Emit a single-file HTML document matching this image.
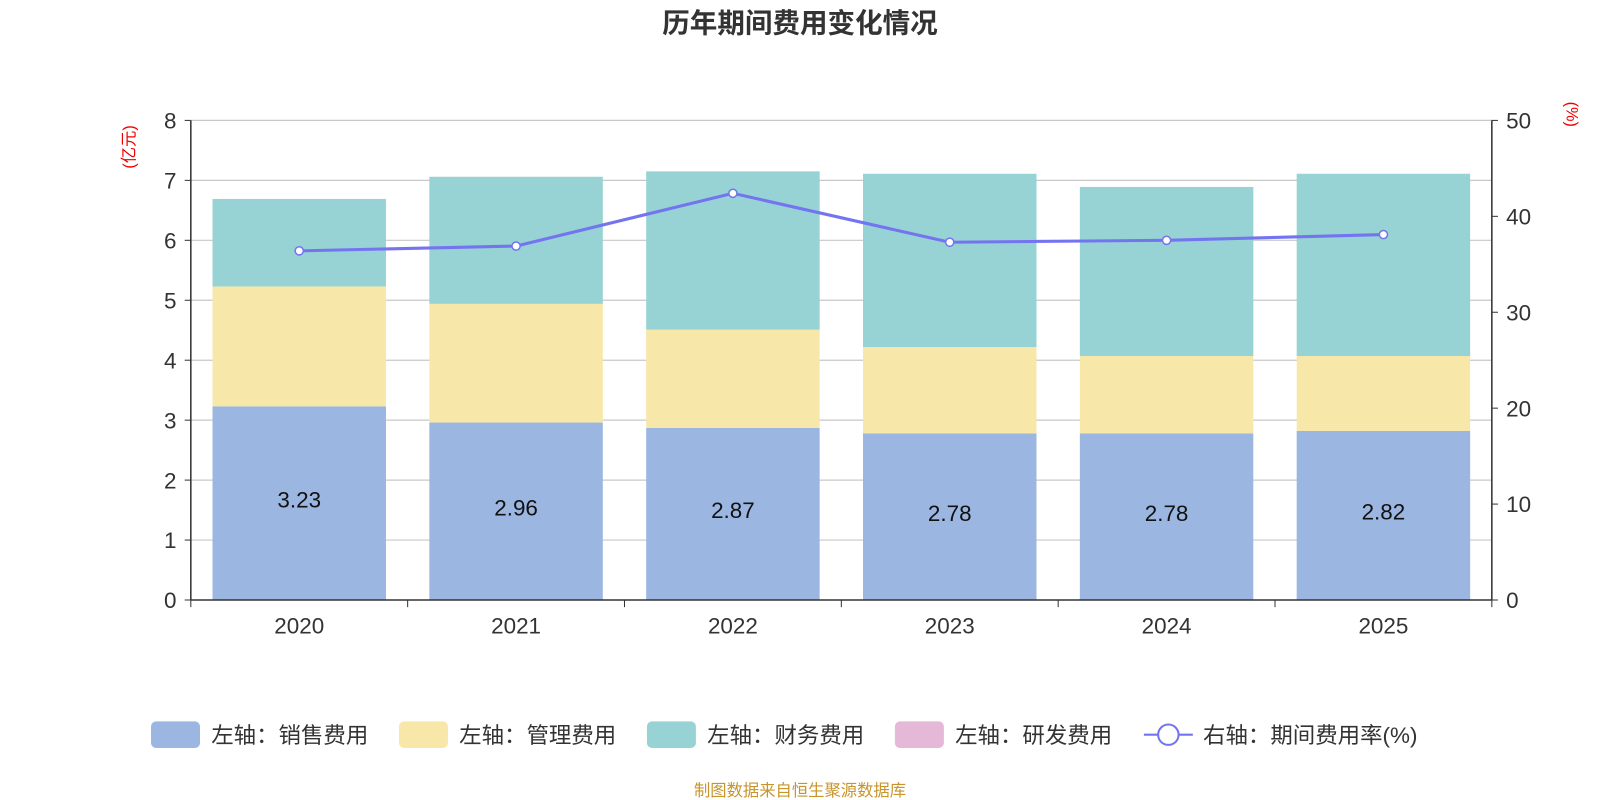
<!DOCTYPE html>
<html><head><meta charset="utf-8"><style>
html,body{margin:0;padding:0;background:#fff;}
svg{display:block;font-family:"Liberation Sans","Noto Sans CJK SC",sans-serif;}
</style></head><body>
<svg id="chart" width="1600" height="800" viewBox="0 0 1568 784" xmlns="http://www.w3.org/2000/svg">
<text x="784" y="32" text-anchor="middle" font-size="27" font-weight="bold" fill="#333">历年期间费用变化情况</text>
<text transform="translate(132,144) rotate(-90)" text-anchor="middle" font-size="16" fill="#e00">(亿元)</text>
<text transform="translate(1535,112) rotate(90)" text-anchor="middle" font-size="16" fill="#e00">(%)</text>
<g id="grid"></g><g id="bars"></g><g id="axes"></g><g id="line"></g>
<g id="legend">
<rect x="148" y="707" width="48" height="26" rx="5" fill="#9bb6e0"/>
<text x="207" y="728" font-size="22" fill="#333">左轴：销售费用</text>
<rect x="391" y="707" width="48" height="26" rx="5" fill="#f7e7a9"/>
<text x="450" y="728" font-size="22" fill="#333">左轴：管理费用</text>
<rect x="634" y="707" width="48" height="26" rx="5" fill="#97d3d4"/>
<text x="693" y="728" font-size="22" fill="#333">左轴：财务费用</text>
<rect x="877" y="707" width="48" height="26" rx="5" fill="#e6b8d8"/>
<text x="936" y="728" font-size="22" fill="#333">左轴：研发费用</text>
<line x1="1121" y1="720" x2="1169" y2="720" stroke="#7474f0" stroke-width="2"/>
<circle cx="1145" cy="720" r="10" fill="#fff" stroke="#7474f0" stroke-width="2"/>
<text x="1179" y="728" font-size="22" fill="#333">右轴：期间费用率(%)</text>
</g>
<text x="784" y="780" text-anchor="middle" font-size="16" fill="#c8952c">制图数据来自恒生聚源数据库</text>
</svg>
<script>
const years=["2020","2021","2022","2023","2024","2025"];
const sales=[3.23,2.96,2.87,2.78,2.78,2.82];
const admin=[2.00,1.98,1.64,1.44,1.29,1.25];
const finance=[1.46,2.12,2.64,2.89,2.82,3.04];
const rd=[0,0,0,0,0,0];
const rate=[36.4,36.9,42.4,37.3,37.5,38.1];
const leftTicks=[0,1,2,3,4,5,6,7,8];
const rightTicks=[0,10,20,30,40,50];

const NS="http://www.w3.org/2000/svg";
const L=187,R=1462,T=118,B=588;
const yL=v=>B-(v/8)*(B-T);
const yR=v=>B-(v/50)*(B-T);
const cw=(R-L)/years.length;
const xC=i=>L+cw*(i+0.5);
function mk(tag,attrs,parent,txt){const e=document.createElementNS(NS,tag);for(const k in attrs)e.setAttribute(k,attrs[k]);if(txt!==undefined)e.textContent=txt;document.getElementById(parent).appendChild(e);return e;}
leftTicks.forEach(v=>{
  if(v>0){const g=mk('line',{x1:L,x2:R,y1:yL(v),y2:yL(v),stroke:'#c8c8c8','stroke-width':1.2},'grid');
  
  }
  const t=mk('text',{x:L-14,y:yL(v)+8,'text-anchor':'end','font-size':22,fill:'#333'},'axes',v);
  
  
  mk('line',{x1:L-6,x2:L,y1:yL(v),y2:yL(v),stroke:'#333'},'axes');
});
rightTicks.forEach(v=>{
  const t=mk('text',{x:R+14,y:yR(v)+8,'font-size':22,fill:'#333'},'axes',v);
  
  
  mk('line',{x1:R,x2:R+6,y1:yR(v),y2:yR(v),stroke:'#333'},'axes');
});
mk('line',{x1:L,x2:L,y1:T,y2:B,stroke:'#333','stroke-width':1.5},'axes');
mk('line',{x1:R,x2:R,y1:T,y2:B,stroke:'#333','stroke-width':1.5},'axes');
mk('line',{x1:L,x2:R,y1:B,y2:B,stroke:'#333','stroke-width':1.5},'axes');
for(let i=0;i<=years.length;i++)mk('line',{x1:L+cw*i,x2:L+cw*i,y1:B,y2:B+7,stroke:'#333'},'axes');
const bw=170;
years.forEach((y,i)=>{
  const xl=xC(i)-bw/2;let base=0;
  [[sales,'#9bb6e0','sales'],[admin,'#f7e7a9','admin'],[finance,'#97d3d4','finance'],[rd,'#e6b8d8','rd']].forEach(([arr,c,n])=>{
    const v=arr[i];
    const r=mk('rect',{x:xl,y:yL(base+v),width:bw,height:yL(base)-yL(base+v),fill:c},'bars');
    
    
    base+=v;
  });
  const lb=mk('text',{x:xC(i),y:yL(sales[i]/2)+4,'text-anchor':'middle','font-size':22,fill:'#111'},'bars',sales[i].toFixed(2));
  
  
  const xt=mk('text',{x:xC(i),y:B+33,'text-anchor':'middle','font-size':22,fill:'#333'},'axes',y);
  
  
});
const pl=mk('polyline',{points:rate.map((v,i)=>xC(i)+','+yR(v)).join(' '),fill:'none',stroke:'#7474f0','stroke-width':3},'line');


rate.forEach((v,i)=>{
  const c=mk('circle',{cx:xC(i),cy:yR(v),r:4,fill:'#fff',stroke:'#7474f0','stroke-width':1.5},'line');
  
  
});
</script>
</body></html>
